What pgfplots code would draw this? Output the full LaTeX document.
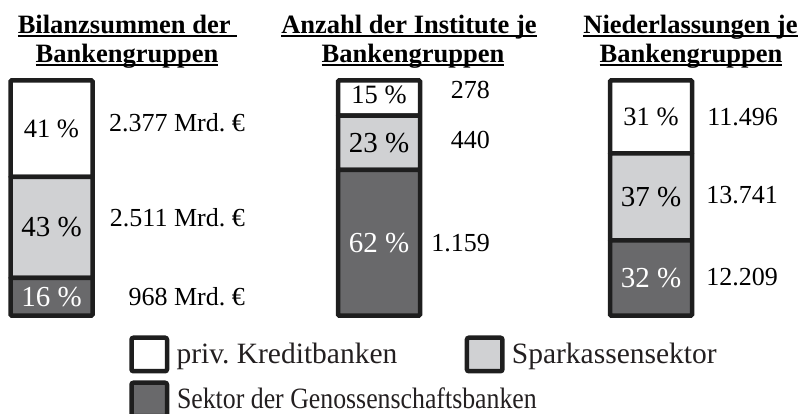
\documentclass[border=0pt]{standalone}
\usepackage{fontspec}
\setmainfont{Liberation Serif}
\usepackage{graphicx}
\usepackage{pgfplots}
\pgfplotsset{compat=1.18}
\definecolor{lgray}{RGB}{208,209,211}
\definecolor{dgray}{RGB}{105,105,107}
\definecolor{edge}{RGB}{30,30,30}
\definecolor{txt}{RGB}{35,31,32}
\newsavebox\ulbox
\newcommand\ul[1]{\sbox\ulbox{#1}\rlap{\rule[-3.5pt]{\wd\ulbox}{2pt}}\usebox\ulbox}
\newcommand\tfont{\fontsize{26.5pt}{28pt}\selectfont\bfseries}
\newcommand\pbig{\fontsize{29pt}{30pt}\selectfont}
\newcommand\psmall{\fontsize{26.5pt}{28pt}\selectfont}
\newcommand\vfont{\fontsize{26pt}{28pt}\selectfont}
\newcommand\lfont{\fontsize{29.5pt}{31pt}\selectfont}
\frenchspacing
\pgfplotsset{base/.style={scale only axis, width=802pt, height=413pt,
  xmin=0, xmax=802, ymin=-41.4894, ymax=134.2553, hide axis, clip=false,
  every node/.append style={text=txt}}}
\begin{document}
\begin{tikzpicture}
\begin{axis}[name=ax, base, ybar stacked, bar width=82,
  legend columns=2, reverse legend,
  legend image code/.code={\draw[#1, line width=4.5pt, rounded corners=2pt] (0pt,-7.75pt) rectangle (35.5pt,25.75pt);},
  legend style={at={(axis cs:129.25,-8.5)}, anchor=north west, draw=none, fill=none,
    inner sep=0pt, outer sep=0pt, font=\lfont, text=txt, row sep=7pt, column sep=7.25pt,
    /tikz/every even column/.append style={column sep=67.25pt},
    cells={anchor=base west}, nodes={inner sep=0pt, outer sep=0pt, text depth=0pt}}]
\addplot[fill=dgray, draw=edge, line width=4.5pt, rounded corners=1pt] coordinates {(51.5,16) (379,62) (651,32)};
\addlegendentry{\rlap{\scalebox{0.875}[1]{Sektor der Genossenschaftsbanken}}}
\addplot[fill=lgray, draw=edge, line width=4.5pt, rounded corners=1pt] coordinates {(51.5,43) (379,23) (651,37)};
\addlegendentry{Sparkassensektor}
\addplot[fill=white, draw=edge, line width=4.5pt, rounded corners=1pt] coordinates {(51.5,41) (379,15) (651,31)};
\addlegendentry{priv. Kreditbanken}
\end{axis}
\begin{axis}[base]
% titles
\node[anchor=base, inner sep=0pt] at (axis cs:127.5,120.21) {\tfont\ul{Bilanzsummen der\ }};
\node[anchor=base, inner sep=0pt] at (axis cs:127,107.87) {\tfont\ul{Bankengruppen}};
\node[anchor=base, inner sep=0pt] at (axis cs:409,120.21) {\tfont\ul{Anzahl der Institute je}};
\node[anchor=base, inner sep=0pt] at (axis cs:413,107.87) {\tfont\ul{Bankengruppen}};
\node[anchor=base, inner sep=0pt] at (axis cs:690.5,120.21) {\tfont\ul{Niederlassungen je}};
\node[anchor=base, inner sep=0pt] at (axis cs:691,107.87) {\tfont\ul{Bankengruppen}};
% percentages
\node[inner sep=0pt] at (axis cs:51.5,79.5) {\psmall 41 \%};
\node[inner sep=0pt] at (axis cs:51.5,37.5) {\pbig 43 \%};
\node[inner sep=0pt, text=white] at (axis cs:51.5,8) {\pbig 16 \%};
\node[inner sep=0pt] at (axis cs:379,94) {\psmall 15 \%};
\node[inner sep=0pt] at (axis cs:379,73.5) {\pbig 23 \%};
\node[inner sep=0pt, text=white] at (axis cs:379,31) {\pbig 62 \%};
\node[inner sep=0pt] at (axis cs:651,84.5) {\psmall 31 \%};
\node[inner sep=0pt] at (axis cs:651,50.5) {\pbig 37 \%};
\node[inner sep=0pt, text=white] at (axis cs:651,16) {\pbig 32 \%};
% values
\node[anchor=east, inner sep=0pt] at (axis cs:245,81.91) {\vfont 2.377 Mrd. €};
\node[anchor=east, inner sep=0pt] at (axis cs:245,41.49) {\vfont 2.511 Mrd. €};
\node[anchor=east, inner sep=0pt] at (axis cs:245,7.87) {\vfont 968 Mrd. €};
\node[anchor=east, inner sep=0pt] at (axis cs:490,95.96) {\vfont 278};
\node[anchor=east, inner sep=0pt] at (axis cs:490,74.68) {\vfont 440};
\node[anchor=east, inner sep=0pt] at (axis cs:490,30.85) {\vfont 1.159};
\node[anchor=east, inner sep=0pt] at (axis cs:778,84.47) {\vfont 11.496};
\node[anchor=east, inner sep=0pt] at (axis cs:778,51.28) {\vfont 13.741};
\node[anchor=east, inner sep=0pt] at (axis cs:778,16.38) {\vfont 12.209};
\end{axis}
\pgfresetboundingbox
\path (ax.south west) rectangle (ax.north east);
\end{tikzpicture}
\end{document}
